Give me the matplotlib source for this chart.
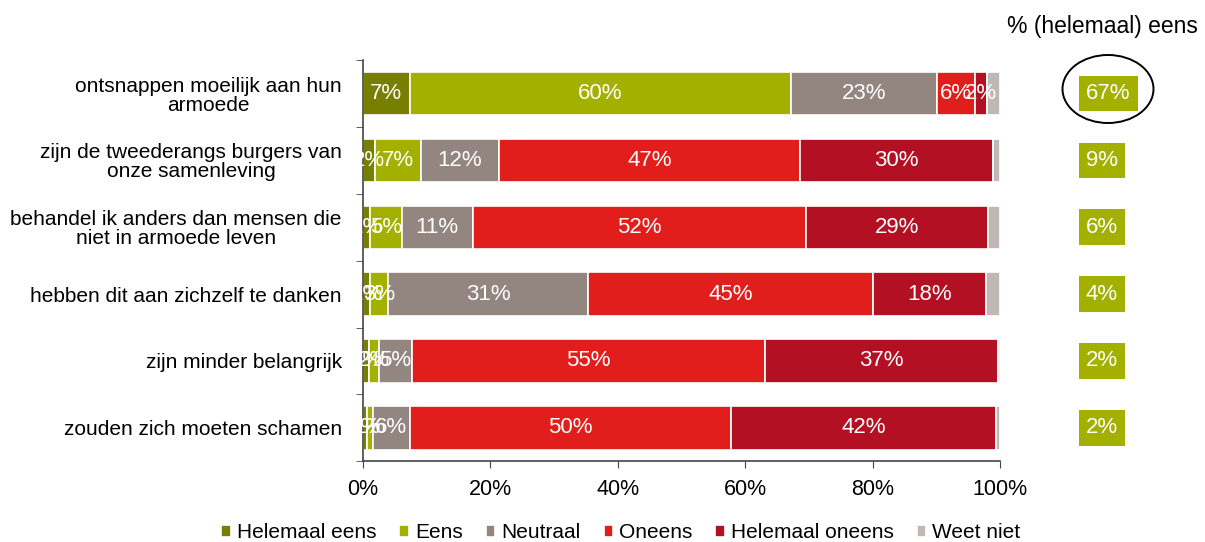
import matplotlib
matplotlib.use("Agg")
import matplotlib.pyplot as plt
from matplotlib.patches import Ellipse
from matplotlib.transforms import blended_transform_factory
import numpy as np

plt.rcParams['font.family'] = ['Liberation Sans', 'DejaVu Sans']

categories = [
    "ontsnappen moeilijk aan hun\narmoede",
    "zijn de tweederangs burgers van\nonze samenleving",
    "behandel ik anders dan mensen die\nniet in armoede leven",
    "hebben dit aan zichzelf te danken",
    "zijn minder belangrijk",
    "zouden zich moeten schamen",
]
series_names = ["Helemaal eens", "Eens", "Neutraal", "Oneens", "Helemaal oneens", "Weet niet"]
helemaal_eens = [7.4, 1.9, 1.1, 1.2, 1.0, 0.6]
eens = [59.8, 7.2, 5.0, 2.8, 1.5, 1.0]
neutraal = [22.9, 12.3, 11.2, 31.4, 5.2, 5.8]
oneens = [6.0, 47.2, 52.2, 44.6, 55.4, 50.4]
helemaal_oneens = [1.9, 30.3, 28.6, 17.8, 36.6, 41.6]
weet_niet = [2.0, 1.1, 1.9, 2.2, 0.3, 0.6]
total_eens = ["67%", "9%", "6%", "4%", "2%", "2%"]
xticks = [0, 20, 40, 60, 80, 100]

colors = ["#767f00", "#a3b000", "#938580", "#e21e1c", "#b31023", "#c0b8b5"]
series = [helemaal_eens, eens, neutraal, oneens, helemaal_oneens, weet_niet]
label_series = [True, True, True, True, True, False]

fig = plt.figure(figsize=(12.05, 5.42), dpi=100)
ax = fig.add_axes([0.301, 0.149, 0.529, 0.740])

y = np.arange(len(categories))
left = np.zeros(len(categories))
for name, vals, col, lab in zip(series_names, series, colors, label_series):
    vals = np.array(vals)
    ax.barh(y, vals, left=left, height=0.65, color=col, edgecolor="white",
            linewidth=1.2, label=name)
    if lab:
        for yi, (l, v) in enumerate(zip(left, vals)):
            ax.text(l + v / 2, yi, f"{v:.0f}%", ha="center", va="center",
                    color="white", fontsize=16)
    left = left + vals

ax.set_xlim(0, 100)
ax.set_ylim(5.5, -0.5)
ax.set_xticks(xticks)
ax.set_xticklabels([f"{t}%" for t in xticks], fontsize=15.5)
ax.set_yticks(y)
ax.set_yticklabels(categories, fontsize=15, ha="right", multialignment="center",
                   linespacing=1.0)
ax.set_yticks(np.arange(-0.5, 6, 1), minor=True)
ax.tick_params(axis="y", which="major", length=0, pad=15)
ax.tick_params(axis="y", which="minor", length=5, direction="out", color="#444444")
ax.tick_params(axis="x", length=5, direction="out", color="#444444", pad=8)
for s in ["top", "right"]:
    ax.spines[s].set_visible(False)
for s in ["left", "bottom"]:
    ax.spines[s].set_color("#444444")
    ax.spines[s].set_linewidth(1.2)

# right column with total agreement
trans = blended_transform_factory(fig.transFigure, ax.transData)
for yi, t in enumerate(total_eens):
    ax.text(1086 / 1205, yi, t, transform=trans, ha="left", va="center", color="white",
            fontsize=16, bbox=dict(boxstyle="square,pad=0.33", facecolor="#a3b000",
                                   edgecolor="none"), clip_on=False)
fig.text(1102 / 1205, 1 - 26 / 542, "% (helemaal) eens", ha="center", va="center",
         fontsize=16.5)
ell = Ellipse((1108 / 1205, 1 - 89 / 542), 91 / 1205, 68 / 542, transform=fig.transFigure,
              fill=False, edgecolor="black", linewidth=1.4)
fig.add_artist(ell)

fig.legend(loc="center", bbox_to_anchor=(621 / 1205, 1 - 533 / 542), ncol=6, frameon=False,
           fontsize=15, handlelength=0.45, handleheight=0.45, handletextpad=0.3,
           columnspacing=1.1, borderpad=0)

fig.savefig("out.png", dpi=100)
